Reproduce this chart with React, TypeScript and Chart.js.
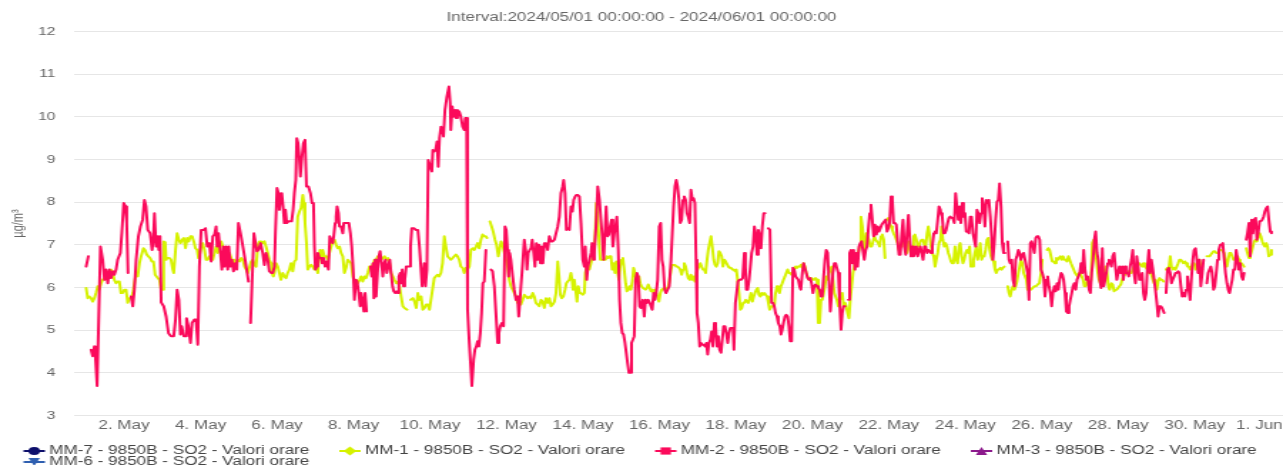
import React, { useEffect, useRef } from "react";
import { Chart, registerables } from "chart.js";

Chart.register(...registerables);

const CHART_TITLE = "Interval:2024/05/01 00:00:00 - 2024/06/01 00:00:00";
const Y_AXIS_TITLE = "µg/m³";

const seriesNames = [
  "MM-7 - 9850B - SO2 - Valori orare",
  "MM-1 - 9850B - SO2 - Valori orare",
  "MM-2 - 9850B - SO2 - Valori orare",
  "MM-3 - 9850B - SO2 - Valori orare",
  "MM-6 - 9850B - SO2 - Valori orare",
];
const seriesColors = ["#0d0f6b", "#d6f200", "#fb0a5b", "#8c1a8c", "#2f5fb0"];
const seriesSymbols = ["circle", "diamond", "square", "triangle", "triangle-down"];

// x values: hours since 2024-05-01 00:00
const xTickHours = [24, 72, 120, 168, 216, 264, 312, 360, 408, 456, 504, 552, 600, 648, 696, 744];
const xTickLabels = [
  "2. May", "4. May", "6. May", "8. May", "10. May", "12. May", "14. May", "16. May",
  "18. May", "20. May", "22. May", "24. May", "26. May", "28. May", "30. May", "1. Jun",
];

type P = [number, number | null];

const mm7Values: P[] = [];
const mm3Values: P[] = [];
const mm6Values: P[] = [];

const mm1Values: P[] = [
[0.2,5.99],[1.2,5.75],[2.2,5.79],[3.3,5.75],[4.3,5.67],[5.4,5.75],[6.4,5.87],[7.5,6.03],[8.5,5.95],[9.6,6.10],
[10.6,6.18],[12.7,6.26],[14.8,6.38],[15.9,6.42],[16.9,6.34],[17.9,6.18],[19.0,6.10],[20.0,6.14],[21.1,6.14],[22.1,5.87],
[23.2,5.87],[24.2,5.95],[25.3,5.95],[26.3,5.64],[27.4,5.75],[28.4,5.75],[29.5,5.87],[30.5,6.10],[31.6,6.34],[32.6,6.26],
[33.7,6.57],[34.7,6.73],[36.2,6.92],[37.2,6.88],[38.3,6.77],[39.3,6.73],[40.4,6.69],[41.4,6.61],[42.5,6.61],[43.5,6.30],
[45.2,6.22],[46.2,6.18],[47.3,5.95],[48.3,5.95],[48.9,7.08],[49.8,7.06],[50.4,6.65],[51.0,6.69],[52.5,6.69],[53.5,6.65],
[54.6,6.42],[55.2,6.34],[56.3,6.88],[57.3,7.27],[58.4,7.12],[59.4,7.04],[60.5,7.12],[61.5,7.16],[62.6,6.92],[63.6,7.16],
[64.6,7.08],[65.7,7.20],[66.7,7.20],[67.8,7.08],[68.8,6.92],[69.9,6.88],[70.7,6.69],[71.6,6.81],[72.4,6.96],[73.4,7.04],
[74.5,6.88],[75.5,6.65],[76.6,6.65],[77.6,6.73],[78.7,6.73],[79.7,6.65],[80.8,6.81],[81.8,6.96],[82.9,6.81],[83.9,6.96],
[85.0,7.08],[86.0,6.96],[87.1,6.85],[88.1,6.73],[89.1,6.65],[90.2,6.81],[91.2,6.69],[92.3,6.57],[93.3,6.65],[94.4,6.57],
[95.4,6.65],[96.5,6.61],[97.5,6.69],[98.6,6.65],[99.6,6.49],[100.7,6.42],[101.7,6.34],[103.8,6.61],[104.8,6.65],[105.9,6.53],
[106.9,6.49],[108.0,7.00],[109.0,7.08],
[110.0,7.08],[111.0,7.04],[112.1,7.08],[113.1,6.96],[114.2,6.81],[115.2,6.65],[116.3,6.57],[116.9,6.34],[117.7,6.26],[118.4,6.34],
[119.4,6.57],[120.5,6.49],[121.5,6.34],[122.5,6.18],[123.6,6.34],[124.6,6.26],[125.7,6.22],[126.7,6.34],[127.8,6.42],[128.8,6.57],
[129.9,6.38],[130.9,6.61],[132.0,6.65],[133.0,7.66],[134.1,7.78],[135.1,7.86],[136.2,8.17],[136.8,7.98],[137.6,7.51],[138.5,7.04],
[139.3,6.42],[140.3,6.49],[141.4,6.53],[142.4,6.49],[143.5,6.42],[144.5,6.53],[145.6,6.34],[146.2,6.65],[147.0,6.88],[148.1,6.65],
[148.7,6.88],[149.8,6.73],[150.8,6.73],[151.9,6.65],[152.9,6.81],[154.0,6.96],[155.0,7.08],[156.1,7.12],[157.1,7.00],[158.1,6.92],
[159.2,6.96],[160.2,6.81],[161.3,6.73],[162.3,6.34],[163.4,6.46],[164.4,6.65],[165.5,6.61],[166.5,6.57],[167.6,6.26],[168.6,6.10],
[169.7,6.18],[170.7,6.10],[171.8,6.18],[172.8,6.26],[173.8,6.14],[174.9,6.26],[175.9,6.22],[177.0,6.34],[178.0,6.49],[179.1,6.46],
[180.1,6.53],[181.2,6.65],[182.2,6.65],[183.3,6.73],[184.3,6.65],[185.4,6.65],[186.4,6.69],[187.5,6.73],[188.5,6.65],[189.6,6.69],
[190.6,6.57],[191.6,6.34],[192.7,6.26],[193.7,6.18],[194.8,6.10],[195.8,6.14],[196.9,6.03],[197.9,5.79],[199.0,5.56],[200.0,5.52],
[201.7,5.48],[202.7,null],[203.8,5.71],[205.3,5.75],[206.3,5.67],[207.4,5.52],[208.4,5.87],[209.4,5.71],[210.5,5.79],[211.5,5.48],
[212.6,5.52],[213.6,5.60],[214.7,5.60],[215.7,5.48],
[217.6,5.95],[218.7,6.22],[219.7,6.26],[220.8,6.30],[221.8,6.26],[222.9,6.34],[223.9,6.57],[225.0,7.20],[226.0,6.96],[227.1,6.73],
[228.1,6.69],[229.1,6.65],[230.2,6.69],[231.2,6.73],[232.3,6.77],[233.3,6.73],[234.4,6.65],[235.4,6.49],[236.5,6.46],[237.5,6.34],
[238.6,6.46],[239.6,6.42],[240.7,6.49],[241.7,6.88],[242.8,6.92],[243.8,6.88],[244.9,6.96],[245.9,7.04],[246.9,6.92],[248.0,7.12],
[249.0,7.24],[250.1,7.20],[251.1,7.20],[251.8,7.16],[252.8,null],[253.6,7.55],[254.7,7.43],[255.7,7.31],[256.8,7.12],[257.8,7.00],
[258.9,6.73],[259.7,6.88],[260.6,7.08],[261.6,7.00],[262.7,6.81],[263.7,6.65],[264.7,6.49],[265.8,6.18],[266.8,6.03],[267.9,5.95],
[268.9,5.87],[270.0,5.79],[271.0,5.64],[272.1,5.67],[273.1,5.60],[274.2,5.71],[275.2,5.83],[276.3,5.79],[277.3,5.75],[278.4,5.79],
[279.4,5.75],[280.5,5.87],[281.5,5.79],[282.5,5.64],[283.6,5.60],[284.6,5.56],[285.7,5.71],[286.7,5.67],[287.8,5.52],[288.8,5.75],
[289.9,5.64],[290.9,5.75],[292.0,5.56],[293.0,5.60],[294.1,5.67],[295.1,5.87],[296.2,6.61],[297.0,6.26],[297.8,5.83],[298.7,5.75],
[299.7,5.79],[300.8,5.95],[301.6,6.10],[302.4,6.14],[303.5,6.18],[304.5,6.34],[305.2,6.18],[305.8,5.95],[306.6,6.18],[307.7,5.87],
[308.3,5.67],[309.1,6.03],[310.0,5.87],[310.8,5.87],[311.9,5.83],[312.9,5.87],[313.5,6.34],[314.4,6.49],[315.2,6.42],[316.0,6.42],
[317.1,6.57],[318.1,6.73],[319.2,6.88],[319.8,7.35],[320.4,7.98],[321.3,7.66],[322.3,6.96],
[322.9,6.65],[323.7,6.65],[324.5,6.65],[325.4,6.65],[326.2,6.65],[327.1,6.73],[327.9,6.69],[328.7,6.73],[329.6,6.73],[330.4,6.42],
[331.2,6.57],[332.1,6.34],[332.9,6.61],[333.8,6.34],[334.6,6.18],[335.4,6.49],[336.3,6.65],[337.1,6.69],[337.9,6.42],[338.8,6.10],
[339.6,5.91],[340.5,5.95],[341.3,6.03],[342.1,5.95],[343.0,6.14],[343.8,6.46],[344.6,6.34],[345.5,6.18],[346.3,6.26],[347.2,6.26],
[348.0,6.10],[348.8,6.03],[349.7,5.99],[350.5,5.99],[351.3,5.95],[352.2,5.99],[353.0,6.07],[353.9,5.99],[354.7,5.91],[355.5,5.95],
[356.4,5.87],[357.2,5.95],[358.0,5.87],[358.9,5.79],[359.7,5.67],[360.6,5.87],[361.4,5.95],[362.2,5.95],[363.1,5.99],[363.9,5.91],
[364.7,5.95],[365.6,6.03],[366.4,6.18],[367.3,6.42],[368.1,6.53],[368.9,6.53],[369.8,6.53],[370.6,6.49],[371.4,6.49],[372.3,6.46],
[373.1,6.42],[374.0,6.30],[374.8,6.42],[375.6,6.57],[376.5,6.49],[377.3,6.34],[378.1,6.22],[379.0,6.18],[379.8,6.30],[380.7,6.18],
[381.5,6.26],[382.3,6.14],[383.2,6.34],[384.0,6.42],[384.8,6.49],[385.7,6.57],[386.5,6.49],[387.4,6.42],[388.2,6.42],[389.0,6.34],
[389.9,6.65],[390.7,6.88],[391.5,7.04],[392.4,7.20],[393.2,6.96],[394.1,6.65],[394.9,6.53],[395.7,6.49],[396.6,6.57],[397.4,6.85],
[398.2,6.81],[399.1,6.73],[399.9,6.49],[400.8,6.65],[401.6,6.61],[402.4,6.61],[403.3,6.49],[404.1,6.46],[405.0,6.46],[405.8,6.42],
[406.6,6.42],[407.5,6.38],[408.3,6.42],[409.1,6.18],[410.0,5.87],[410.8,5.48],[411.7,5.52],[412.5,5.64],[413.3,5.64],[414.2,5.71],
[415.0,5.67],[415.8,5.64],[416.7,5.75],[417.5,5.87],[418.4,5.67],[419.2,5.79],[420.0,5.87],[420.9,5.95],[421.7,5.99],[422.5,5.83],
[423.4,5.79],[424.2,5.87],[425.1,5.83],[425.9,5.87],[426.7,5.83],[427.6,5.79],[428.4,5.64],[429.2,5.48],
[430.4,5.56],[431.2,5.56],[432.1,5.56],[432.9,5.87],[433.8,6.03],[434.6,5.95],[435.4,5.87],[436.3,6.03],[437.1,6.10],[437.9,6.18],
[438.8,6.26],[439.6,6.34],[440.5,6.42],[441.3,6.34],[442.1,6.34],[443.0,6.30],[443.8,6.38],[444.6,6.42],[445.5,6.49],[446.3,6.46],
[447.2,6.49],[448.0,6.49],[448.8,6.53],[449.7,6.46],[450.5,6.57],[451.3,6.49],[452.2,6.34],[453.0,6.26],[453.9,6.18],[454.7,6.18],
[455.5,6.22],[456.4,6.18],[457.2,6.18],[458.0,6.22],[458.9,6.18],[459.7,5.17],[460.6,5.17],[461.4,5.71],[462.2,5.71],[463.1,5.87],
[463.9,6.03],[464.7,6.26],[465.6,6.18],[466.4,6.34],[467.3,6.42],[468.1,6.49],[468.9,6.22],[469.8,5.87],[470.6,5.79],[471.4,5.71],
[472.3,5.56],[473.1,5.71],[474.0,5.75],[474.8,5.87],[475.6,5.56],[476.5,5.64],[477.3,5.56],[478.1,5.40],[479.0,5.28],[479.8,5.71],
[480.7,6.03],[481.5,6.34],[482.3,6.49],[483.2,6.65],[484.0,6.65],[484.8,6.81],[485.7,6.96],[486.5,7.66],[487.4,7.43],[488.2,7.12],
[489.0,6.88],[489.9,7.27],[490.7,7.20],[491.5,7.12],[492.4,6.96],[493.2,6.96],[494.1,7.08],[494.9,7.20],[495.7,7.12],[496.6,7.08],
[497.4,7.04],[498.2,6.96],[499.1,7.20],[499.9,7.24],[500.8,7.12],[501.6,6.69],[502.2,null],[502.9,7.59],[503.7,7.63],[504.5,7.51],
[505.4,7.43],[506.2,7.35],[507.0,7.27],[507.9,7.20],[508.7,7.12],[509.6,7.04],[510.4,6.88],[511.2,6.96],[512.1,6.96],[512.9,7.12],
[513.7,7.08],[514.6,6.96],[515.4,6.81],[516.3,7.08],[517.1,6.96],[517.9,6.81],[518.8,6.96],[519.6,7.20],[520.4,7.24],[521.3,7.12],
[522.1,6.96],[523.0,6.96],[523.8,7.08],[524.6,7.12],[525.5,7.12],[526.3,7.00],[527.1,6.96],[528.0,7.27],[528.8,7.43],[529.7,7.20],
[530.5,6.96],[531.3,6.81],[532.2,6.73],[533.0,6.49],[533.8,6.65],[534.7,6.81],[535.5,7.04],[536.4,7.12],
[537.1,7.43],[537.9,7.12],[538.8,6.96],[539.6,7.04],[540.5,6.96],[541.3,6.81],[542.1,6.73],[543.0,6.61],[543.8,6.57],[544.6,6.57],
[545.5,6.96],[546.3,6.65],[547.2,6.57],[548.0,6.96],[548.8,7.04],[549.7,6.73],[550.5,6.57],[551.3,6.65],[552.2,6.81],[553.0,6.88],
[553.9,6.81],[554.7,6.96],[555.5,6.49],[556.4,6.49],[557.2,6.65],[558.0,6.81],[558.9,6.96],[559.7,6.65],[560.6,6.81],[561.4,7.04],
[562.2,6.65],[563.1,6.73],[563.9,6.73],[564.7,6.88],[565.6,7.12],[566.4,7.16],[567.3,6.88],[568.1,6.73],[568.9,6.65],[569.8,6.61],
[570.6,6.42],[571.4,6.34],[572.3,6.42],[573.1,6.42],[574.0,6.46],[574.8,6.42],[575.6,6.46],[576.5,6.49],[577.5,null],[578.6,6.03],
[579.4,5.87],[580.2,5.79],[581.1,5.95],[581.9,6.03],[582.8,5.95],[583.6,6.03],[584.4,6.14],[585.3,6.34],[586.1,6.49],[586.9,6.65],
[587.8,6.57],[588.6,6.34],[589.5,6.26],[590.3,6.18],[591.1,5.95],[593.2,5.95],[594.3,5.99],[595.3,6.03],[596.4,6.03],[597.4,6.07],
[598.5,6.10],[599.5,6.34],[600.3,6.65],[601.5,null],[603.3,6.88],[604.1,6.92],[604.9,6.88],[605.8,6.73],[606.6,6.61],[607.5,6.61],
[608.3,6.57],[609.1,6.69],[610.0,6.65],[610.8,6.69],[611.6,6.73],[612.5,6.65],[613.3,6.73],[614.2,6.65],[615.0,6.65],[615.8,6.61],
[616.7,6.73],[617.5,6.65],[618.3,6.57],[619.2,6.49],[620.0,6.42],[620.9,6.34],[621.7,6.30],[622.5,6.26],[623.4,6.34],[624.2,6.34],
[625.0,6.26],[625.9,6.18],[626.7,6.03],[627.6,6.03],[628.4,6.18],[629.2,6.07],[630.1,6.03],[630.9,6.18],[631.7,7.04],[632.6,7.12],
[633.4,6.96],[634.3,6.65],[635.1,6.34],[635.9,6.18],[636.8,6.10],[637.6,6.18],[638.5,6.26],[639.3,6.34],[640.1,6.49],[641.0,6.34],
[641.8,6.03],[642.6,5.95],
[643.7,6.10],[644.5,6.07],[645.4,5.91],[646.2,5.95],[647.1,5.95],[647.9,5.99],[648.7,6.03],[649.6,6.07],[650.4,6.18],[651.2,6.26],
[652.9,6.34],[653.8,6.34],[654.6,6.38],[655.4,6.34],[656.3,6.34],[657.1,6.42],[657.9,6.49],[658.8,6.53],[659.6,6.49],[660.5,6.57],
[661.3,6.57],[662.1,6.53],[663.0,6.49],[663.8,6.57],[664.6,6.49],[665.5,6.46],[666.3,6.42],[667.2,6.34],[668.0,6.34],[668.8,6.30],
[669.7,6.18],[670.5,6.10],[671.3,6.18],[672.2,5.95],[673.0,6.14],[673.9,6.22],[674.7,6.18],[675.5,6.18],[676.4,6.14],[677.4,null],
[678.0,6.42],[678.9,6.46],[679.7,6.42],[680.6,6.73],[681.4,6.49],[682.2,6.42],[683.1,6.46],[683.9,6.42],[684.7,6.49],[685.6,6.57],
[686.4,6.65],[687.3,6.65],[688.1,6.61],[688.9,6.57],[689.8,6.61],[690.6,6.57],[691.4,6.49],[692.3,6.49],[693.1,6.42],[694.0,6.49],
[694.8,6.57],[695.6,6.57],[696.5,6.42],[697.3,6.49],[698.1,6.65],[699.0,6.65],[699.8,6.49],[700.7,6.42],[702.0,null],[703.6,6.73],
[704.4,6.73],[705.3,6.73],[706.1,6.77],[706.9,6.81],[707.8,6.85],[708.6,6.85],[709.5,6.81],[710.3,6.81],[711.1,6.85],[712.0,6.88],
[712.8,6.88],[713.6,6.85],[714.5,6.81],[715.3,6.65],[716.2,6.49],[717.0,6.65],[717.8,6.81],[718.7,6.81],[719.5,6.73],[720.3,6.65],
[721.2,6.65],[722.0,6.73],[722.9,6.73],[723.7,6.65],[724.5,6.57],[725.4,6.57],[726.2,6.53],[727.0,6.49],[727.6,null],[728.3,6.92],
[729.1,6.81],[730.0,6.69],[730.8,6.73],[731.7,6.85],[732.5,6.96],[733.3,7.08],[734.2,7.12],[735.0,7.08],[735.8,7.16],[736.7,7.27],
[737.5,7.20],[738.4,7.08],[739.2,7.00],[740.0,6.96],[740.9,7.04],[741.7,6.96],[742.5,6.73],[743.4,6.77],[744.2,6.88],
];

const mm2Values: P[] = [
[0.2,6.49],[1.6,6.73],[2.4,null],[3.3,4.54],[4.3,4.39],[5.4,4.62],[6.0,4.39],[7.1,3.69],[9.2,6.96],[10.6,6.65],
[11.7,6.18],[12.7,6.42],[13.8,6.10],[14.8,6.42],[15.9,6.22],[16.9,6.38],[17.9,6.30],[19.0,6.42],[20.0,6.65],[21.7,6.81],
[22.6,7.27],[23.8,7.98],[24.9,7.90],[25.7,7.51],[26.5,6.34],[27.4,null],[28.4,5.79],[29.5,5.56],[30.5,5.95],[31.6,6.65],
[33.0,7.20],[34.3,7.43],[35.7,7.59],[36.8,8.05],[37.8,7.90],[38.9,7.35],[40.4,7.27],[41.6,6.88],[42.4,7.12],[43.1,7.74],
[44.1,6.96],[45.2,7.20],[45.8,6.88],[46.6,7.20],[47.3,5.65],[48.9,5.56],[50.4,5.32],[51.9,4.93],[53.5,4.86],[55.2,4.86],
[56.3,5.25],[57.3,5.95],[58.4,5.71],[59.4,4.90],[60.2,5.09],[61.5,4.86],[62.5,4.86],[63.2,5.28],[64.4,5.09],[65.7,4.70],
[66.7,5.17],[68.2,5.25],[69.2,5.25],[70.3,4.66],[71.3,6.49],[72.4,7.35],[74.1,7.35],[75.1,7.39],[76.2,6.96],[77.6,7.04],
[78.7,6.61],[79.7,7.20],[80.8,7.24],[81.8,7.43],[82.4,6.96],[83.3,7.27],[84.5,6.81],[85.4,6.42],[86.4,6.96],[87.1,6.49],
[88.1,6.96],[89.1,6.42],[89.8,6.96],[90.8,6.49],[91.7,6.65],[92.7,6.38],[93.8,6.57],[94.8,6.42],[95.8,7.51],[97.1,7.27],
[98.6,6.96],[100.0,6.65],[101.3,6.34],[102.1,6.14],[102.7,null],[103.4,5.17],[104.8,6.57],[105.5,7.27],[106.3,7.27],[107.4,6.85],
[108.4,6.88],[109.7,7.04],
[111.0,6.81],[112.1,6.53],[113.1,6.81],[114.2,6.65],[115.2,6.38],[116.3,6.34],[117.3,6.34],[118.4,6.49],[119.0,7.27],[120.0,8.33],
[120.9,8.21],[121.5,7.82],[122.1,8.05],[123.0,8.21],[123.8,7.90],[124.6,7.51],[125.3,7.82],[126.1,7.51],[127.2,7.55],[128.4,7.55],
[129.2,7.55],[130.1,7.82],[130.9,8.21],[131.8,8.52],[132.4,9.50],[133.2,9.38],[134.1,8.99],[134.7,8.60],[135.5,8.99],[136.6,9.38],
[137.6,9.46],[138.5,8.37],[139.7,8.37],[141.0,8.21],[142.0,7.98],[142.9,7.98],[143.5,6.96],[144.1,6.42],[145.0,6.49],[145.6,6.81],
[146.6,6.69],[147.7,6.69],[148.3,6.57],[149.3,6.69],[150.2,6.49],[151.2,6.61],[152.3,6.42],[153.1,7.20],[154.0,7.12],[155.0,7.04],
[155.6,7.20],[156.5,7.51],[157.1,7.66],[157.7,7.90],[158.6,7.74],[159.2,7.43],[160.2,7.43],[161.3,7.27],[161.9,7.51],[163.0,7.51],
[164.0,7.51],[165.1,7.51],[166.1,7.27],[166.9,6.96],[167.8,6.42],[168.6,5.71],[169.5,6.18],[170.3,6.14],[171.3,5.87],[172.2,5.56],
[172.8,5.87],[173.6,5.71],[174.5,5.44],[175.3,5.87],[176.2,5.44],[177.3,null],[178.7,6.49],[179.5,6.26],[180.3,6.57],[180.8,5.75],
[181.6,6.65],[182.2,5.79],[183.1,6.34],[183.9,6.73],[184.7,6.85],[185.6,6.57],[186.4,6.26],[187.3,6.57],[188.1,6.65],[188.9,6.34],
[189.8,6.49],[190.8,6.65],[191.6,6.34],[192.5,6.03],[193.3,5.91],[194.2,5.87],[195.0,5.91],[195.8,5.87],[196.5,6.26],[197.3,6.34],
[197.9,6.10],[198.6,6.42],[199.4,6.03],[200.2,6.18],[201.1,6.49],[202.1,6.49],[203.0,6.49],[203.8,6.96],[204.6,7.39],[205.9,7.39],
[207.1,7.35],[208.4,7.35],[209.4,6.96],
[211.1,6.03],[212.4,6.57],[213.2,6.03],[214.1,6.42],[214.9,8.99],[216.2,8.83],[217.2,8.72],[217.8,9.22],[218.7,9.19],[219.5,9.22],
[220.4,9.42],[221.2,8.83],[222.0,9.50],[222.9,9.77],[223.7,9.73],[224.5,9.54],[225.4,10.16],[226.6,10.47],[227.9,10.71],[228.7,10.32],
[229.1,9.69],[230.0,10.24],[230.8,10.00],[231.7,10.16],[232.5,9.97],[233.3,10.16],[234.4,10.12],[235.4,10.00],[236.5,9.77],[237.5,9.69],
[238.2,9.97],[239.0,9.97],[239.6,5.48],[240.7,4.70],[241.7,4.08],[242.3,3.69],[243.4,4.31],[244.2,4.54],[245.1,4.62],[245.9,4.74],
[246.7,4.62],[247.6,4.93],[248.4,5.40],[249.2,6.10],[250.1,6.14],[251.1,6.88],[252.5,null],[254.3,6.42],[255.3,6.38],[256.4,6.03],
[257.4,5.40],[258.5,4.70],[259.3,4.93],[260.1,5.09],[261.2,5.17],[262.2,5.09],[263.1,7.43],[263.9,7.35],[264.7,6.88],[265.4,6.26],
[266.0,6.81],[266.8,6.65],[267.9,6.26],[268.9,5.95],[270.0,5.71],[271.0,5.79],[271.7,5.32],[272.5,5.71],[273.1,6.03],[274.2,6.57],
[275.2,7.12],[276.3,6.81],[276.9,6.42],[277.7,6.81],[278.6,6.88],[279.4,6.92],[280.2,7.12],[281.1,6.81],[281.9,6.49],[282.8,7.04],
[283.6,6.65],[284.4,7.00],[285.3,6.57],[286.1,6.96],[286.9,6.57],[287.8,7.04],[288.8,7.04],[289.9,6.88],[290.9,7.20],[292.0,7.08],
[293.0,7.08],[294.1,7.12],[295.1,7.27],[296.2,7.43],[297.2,7.66],[298.2,8.21],[299.3,8.37],[299.9,8.52],[300.8,8.21],[301.6,7.35],
[302.4,7.39],[303.5,7.35],[304.5,7.90],[305.4,7.78],[306.2,8.05],[307.1,8.13],[307.9,8.17],[308.7,8.17],[309.8,8.13],[310.8,7.51],
[311.9,6.65],[312.9,6.49],[313.5,6.96],[314.4,6.18],[315.2,6.49],[316.1,6.65],[317.1,6.81],[317.7,7.04],[318.6,6.65],[319.2,6.85],
[320.2,7.43],[321.3,8.37],
[322.4,8.05],[323.3,7.59],[324.1,7.20],[325.0,6.65],[325.8,7.27],[326.6,7.90],[327.5,7.20],[328.3,7.24],[329.1,7.43],[330.0,7.59],
[330.8,6.96],[331.7,7.27],[332.5,7.43],[333.3,7.66],[334.2,6.88],[335.0,5.71],[335.8,5.17],[336.7,4.93],[337.5,4.90],[338.4,4.70],
[339.2,4.47],[340.0,4.23],[340.9,4.00],[341.7,4.00],[342.5,4.70],[343.4,4.78],[344.2,4.86],[345.1,6.18],[345.9,6.34],[346.7,6.26],
[347.6,5.56],[348.4,5.52],[349.5,5.71],[350.5,5.32],[351.3,5.71],[352.2,5.64],[353.0,5.71],[353.9,5.64],[354.7,5.56],[355.5,5.48],
[356.4,5.87],[357.2,5.71],[358.0,5.87],[358.9,6.18],[359.9,7.43],[360.8,7.51],[361.6,6.65],[362.4,6.49],[363.3,5.95],[364.1,5.87],
[365.2,5.95],[366.2,6.03],[367.3,6.65],[368.1,7.27],[368.9,7.90],[369.8,8.37],[370.6,8.52],[371.4,8.37],[372.3,8.05],[373.1,7.51],
[374.0,7.59],[374.8,8.05],[375.6,8.13],[376.5,8.05],[377.3,7.74],[378.1,7.66],[379.0,7.51],[379.8,8.29],[380.7,8.05],[381.5,8.09],
[382.3,7.98],[383.0,6.65],[383.6,5.40],[384.4,5.17],[385.3,4.62],[386.1,4.70],[386.9,4.66],[387.8,4.66],[388.6,4.62],[389.5,4.70],
[390.3,4.43],[391.1,4.70],[392.0,4.78],[392.8,4.97],[393.6,4.62],[394.5,5.17],[395.3,5.09],[396.2,4.62],[397.0,4.86],[397.8,4.54],
[398.7,4.47],[399.5,4.78],[400.3,5.09],[401.2,5.09],[402.0,4.93],[402.9,4.70],[403.7,4.93],[404.5,5.05],[405.4,5.05],[406.2,5.05],
[406.8,4.54],[407.7,5.64],[408.5,5.87],[409.3,6.14],[410.2,6.18],[411.2,6.18],[412.3,6.22],[413.3,6.81],[414.0,6.49],[414.6,5.95],
[415.4,5.95],[416.3,6.18],[417.1,6.49],[417.9,6.81],[418.8,6.96],[419.6,7.43],[420.4,7.27],[421.3,6.77],[422.1,7.35],[423.0,7.20],
[423.8,6.92],[424.6,7.43],[425.5,7.74],[426.3,7.74],[427.4,null],
[428.3,7.39],[429.4,7.35],[430.4,5.64],[431.2,5.64],[432.1,5.56],[432.9,5.40],[433.8,5.32],[434.6,5.17],[435.6,5.09],[436.3,4.90],
[437.1,5.01],[437.9,5.17],[438.8,5.32],[439.6,5.36],[440.5,5.32],[441.3,5.09],[442.1,4.74],[443.0,4.74],[443.8,6.46],[444.6,6.42],
[445.5,6.26],[446.3,6.26],[447.2,6.18],[448.0,6.03],[448.8,5.95],[449.7,6.34],[450.5,6.57],[451.3,6.46],[452.2,6.34],[453.0,6.22],
[453.9,6.18],[454.7,6.22],[455.5,6.10],[456.4,5.87],[457.2,6.03],[458.0,6.07],[458.9,6.03],[459.7,5.99],[460.6,5.95],[461.4,5.79],
[462.2,5.79],[463.1,6.26],[463.9,6.65],[464.7,6.88],[465.6,6.81],[466.4,6.18],[467.3,5.44],[468.1,5.87],[468.9,6.34],[469.8,6.57],
[470.6,6.57],[471.4,6.46],[472.3,6.34],[473.1,5.71],[474.0,5.01],[474.8,5.40],[475.6,5.56],[476.5,5.56],[477.6,null],[478.6,5.71],
[479.4,6.81],[480.2,6.88],[481.1,6.57],[481.9,6.88],[482.8,6.42],[483.6,6.81],[484.4,6.49],[485.3,6.96],[486.1,7.04],[486.9,7.08],
[487.8,6.85],[488.6,6.65],[489.5,6.88],[490.3,6.96],[491.1,7.35],[492.0,7.74],[492.8,7.94],[493.6,7.59],[494.5,7.20],[495.3,7.47],
[496.2,7.24],[497.0,7.43],[497.8,7.31],[498.7,7.39],[499.5,7.47],[500.3,7.51],[501.2,7.55],[502.0,7.59],[502.9,7.31],[503.7,7.39],
[504.5,7.51],[505.4,8.13],[506.2,8.05],[507.0,7.51],[507.9,7.51],[508.7,7.47],[509.6,7.04],[510.4,6.77],[511.2,6.77],[512.1,7.27],
[512.9,7.59],[513.7,6.96],[514.6,6.77],[515.4,7.27],[516.3,7.70],[517.1,7.20],[517.9,6.73],[518.8,6.96],[519.6,6.73],[520.4,6.81],
[521.3,6.96],[522.1,6.73],[523.0,6.88],[523.8,6.96],[524.6,6.81],[525.5,6.65],[526.3,6.96],[527.1,6.96],[528.0,6.81],[528.8,6.88],
[529.7,6.85],[530.5,6.81],[531.3,6.96],[532.2,7.27],[533.0,7.31],[533.8,7.27],[534.7,7.59],[535.5,7.90],[536.4,7.82],
[536.7,7.74],[537.5,7.66],[538.4,7.27],[539.2,7.27],[540.0,7.35],[540.9,7.51],[541.7,7.63],[542.5,7.66],[543.4,7.63],[544.2,7.63],
[545.1,7.51],[545.9,8.21],[546.7,7.90],[547.6,7.59],[548.4,7.90],[549.2,7.51],[550.1,7.98],[550.9,7.66],[551.8,7.74],[552.6,7.31],
[553.4,7.31],[554.3,7.27],[555.1,7.66],[555.9,7.66],[556.8,7.27],[557.6,7.12],[558.5,6.96],[559.3,7.82],[560.1,7.74],[561.0,7.51],
[561.8,7.74],[562.6,8.09],[563.5,7.90],[564.3,7.43],[565.2,8.05],[566.0,7.98],[566.8,8.05],[567.7,7.66],[568.5,7.20],[569.3,6.65],
[570.2,7.04],[571.0,7.59],[571.9,8.01],[572.7,8.05],[573.5,8.44],[574.4,7.90],[575.2,7.04],[576.0,6.81],[576.9,6.81],[577.7,null],
[578.6,7.08],[579.4,6.65],[580.2,6.57],[581.1,6.65],[581.9,6.18],[582.8,6.03],[583.6,6.65],[584.4,6.73],[585.3,6.88],[586.1,6.81],
[586.9,6.65],[587.8,6.77],[588.6,6.81],[589.5,6.65],[590.3,6.65],[591.1,6.34],[592.0,5.71],[592.8,7.04],[593.6,7.08],[594.5,6.96],
[595.3,6.81],[596.2,7.16],[597.0,7.20],[597.8,7.20],[598.7,7.12],[599.5,6.42],[600.3,6.34],[601.2,6.22],[602.0,5.79],[602.9,6.18],
[603.7,6.26],[604.5,6.03],[605.4,5.87],[606.2,5.56],[607.0,5.87],[607.9,6.03],[608.7,5.91],[609.6,6.10],[610.4,5.95],[611.2,6.18],
[612.1,6.34],[612.9,6.30],[613.7,6.18],[614.6,5.87],[615.4,5.44],[616.3,5.40],[617.1,5.56],[617.9,5.71],[618.8,5.87],[619.6,6.03],
[620.4,6.10],[621.3,5.95],[622.1,6.18],[623.0,6.26],[623.8,6.34],[624.6,6.57],[625.5,6.34],[626.3,6.88],[627.1,6.42],[628.0,6.18],
[628.8,6.26],[629.7,5.95],[630.5,5.87],[631.3,6.34],[632.2,6.65],[633.0,7.12],[633.8,7.31],[634.7,6.81],[635.5,6.65],[636.4,6.18],
[637.2,5.99],[638.0,6.92],[638.9,6.03],[639.7,6.18],[640.5,6.34],[641.4,6.57],[642.2,6.65],
[643.7,6.49],[644.5,6.73],[645.4,6.81],[646.2,6.49],[647.1,6.18],[647.9,6.34],[648.7,6.49],[649.6,6.34],[650.4,6.49],[651.2,6.18],
[652.1,6.49],[652.9,6.34],[653.8,6.34],[654.6,6.26],[655.4,6.49],[656.3,6.65],[657.1,6.88],[657.9,6.34],[658.8,6.10],[659.6,6.73],
[660.5,6.49],[661.3,6.18],[662.1,6.18],[663.0,6.34],[663.8,5.87],[664.6,5.71],[665.5,5.87],[666.3,6.49],[667.2,6.88],[668.0,6.34],
[668.8,6.65],[669.7,6.42],[670.5,6.18],[671.3,5.95],[672.2,5.64],[673.0,5.32],[673.9,5.56],[674.7,5.56],[675.5,5.52],[676.8,5.40],
[677.4,null],[678.0,5.87],[678.9,6.42],[679.7,6.46],[680.6,6.34],[681.4,6.10],[682.2,6.18],[683.1,6.26],[683.9,6.34],[684.7,6.34],
[685.6,6.38],[686.4,6.34],[687.3,6.03],[688.1,5.79],[688.9,5.87],[689.8,5.79],[690.6,5.95],[691.4,6.26],[692.3,5.95],[693.1,5.71],
[694.0,6.26],[694.8,6.65],[695.6,6.88],[696.5,6.92],[697.3,6.65],[698.1,6.34],[699.0,6.65],[699.8,6.03],[700.7,6.34],[701.5,6.65],
[702.6,null],[703.6,6.10],[704.4,6.34],[705.3,6.42],[706.1,6.49],[706.9,6.34],[707.8,5.95],[708.6,6.03],[709.5,6.34],[710.3,6.65],
[711.1,6.88],[712.0,7.00],[712.8,7.00],[713.6,7.04],[714.5,6.65],[715.3,6.34],[716.2,6.10],[717.0,5.95],[717.8,5.87],[718.7,6.03],
[719.5,6.18],[720.3,6.42],[721.2,6.42],[722.0,6.88],[722.9,6.65],[723.7,6.42],[724.5,6.57],[725.4,6.26],[726.2,6.18],[727.0,6.34],
[727.6,null],[728.3,7.12],[729.1,7.27],[730.0,7.51],[730.8,6.73],[731.7,7.59],[732.5,7.27],[733.3,7.59],[734.2,7.63],[735.0,7.12],
[735.8,7.27],[736.7,7.55],[737.5,7.55],[738.4,7.59],[739.2,7.66],[740.0,7.78],[740.9,7.86],[741.7,7.90],[742.5,7.59],[743.4,7.31],
[744.2,7.27],
];

const seriesValues: P[][] = [mm7Values, mm1Values, mm2Values, mm3Values, mm6Values];
const drawOrder = [3, 1, 0, 4, 5];

// ---------- layout constants (canvas internal units, stretched horizontally by CSS) ----------
const CANVAS_W = 900;
const CANVAS_H = 465;
const DISPLAY_W = 1283;
const LEGEND_TEXT_X = [34.5, 256, 477.5, 699];
const LEGEND_ROW_Y = [451, 462];
const FONT_FAMILY = "'Liberation Sans', Arial, Helvetica, sans-serif";

function drawSymbol(ctx: CanvasRenderingContext2D, kind: string, cx: number, cy: number, color: string) {
  ctx.fillStyle = color;
  ctx.beginPath();
  if (kind === "circle") {
    ctx.arc(cx, cy, 4, 0, Math.PI * 2);
  } else if (kind === "diamond") {
    ctx.moveTo(cx, cy - 4.5);
    ctx.lineTo(cx + 4.5, cy);
    ctx.lineTo(cx, cy + 4.5);
    ctx.lineTo(cx - 4.5, cy);
    ctx.closePath();
  } else if (kind === "square") {
    ctx.rect(cx - 3.6, cy - 3.6, 7.2, 7.2);
  } else if (kind === "triangle") {
    ctx.moveTo(cx, cy - 4);
    ctx.lineTo(cx + 4, cy + 4);
    ctx.lineTo(cx - 4, cy + 4);
    ctx.closePath();
  } else {
    ctx.moveTo(cx - 4, cy - 4);
    ctx.lineTo(cx + 4, cy - 4);
    ctx.lineTo(cx, cy + 4);
    ctx.closePath();
  }
  ctx.fill();
}

const legendPlugin = {
  id: "bottomLegend",
  afterDraw(chart: any) {
    const ctx: CanvasRenderingContext2D = chart.ctx;
    ctx.save();
    ctx.font = `12px ${FONT_FAMILY}`;
    ctx.textBaseline = "middle";
    ctx.textAlign = "left";
    chart.data.datasets.forEach((ds: any, i: number) => {
      const col = i % 4;
      const row = Math.floor(i / 4);
      const tx = LEGEND_TEXT_X[col];
      const y = LEGEND_ROW_Y[row];
      ctx.strokeStyle = ds.borderColor;
      ctx.lineWidth = 2;
      ctx.beginPath();
      ctx.moveTo(tx - 18, y);
      ctx.lineTo(tx - 3, y);
      ctx.stroke();
      drawSymbol(ctx, seriesSymbols[i], tx - 10.5, y, ds.borderColor);
      ctx.fillStyle = "#444444";
      ctx.fillText(ds.label, tx, y);
    });
    ctx.restore();
  },
};

export default function App() {
  const canvasRef = useRef<HTMLCanvasElement>(null);

  useEffect(() => {
    if (!canvasRef.current) return;
    Chart.defaults.font.family = FONT_FAMILY;

    const datasets = seriesNames.map((name, i) => ({
      label: name,
      data: seriesValues[i].map(([x, y]) => ({ x, y })),
      borderColor: seriesColors[i],
      backgroundColor: seriesColors[i],
      borderWidth: 2,
      pointRadius: 0,
      pointHoverRadius: 0,
      tension: 0,
      spanGaps: false,
      borderJoinStyle: "round" as const,
      borderCapStyle: "round" as const,
      order: drawOrder[i],
    }));

    const chart = new Chart(canvasRef.current, {
      type: "line",
      data: { datasets },
      options: {
        responsive: false,
        maintainAspectRatio: false,
        animation: false,
        events: [],
        devicePixelRatio: 1,
        layout: { padding: { top: 0, right: 0, bottom: 29.5, left: 0 } },
        plugins: {
          legend: { display: false },
          tooltip: { enabled: false },
          title: {
            display: true,
            text: CHART_TITLE,
            color: "#666666",
            font: { size: 12, weight: "normal" },
            padding: { top: 10, bottom: 7.1 },
          },
        },
        scales: {
          x: {
            type: "linear",
            min: -7.4,
            max: 751.4,
            grid: { display: false, drawTicks: false },
            border: { display: false },
            afterBuildTicks: (scale: any) => {
              scale.ticks = xTickHours.map((v) => ({ value: v }));
            },
            afterFit: (scale: any) => {
              scale.height = 20;
              scale.paddingLeft = 0;
              scale.paddingRight = 0;
            },
            ticks: {
              autoSkip: false,
              maxRotation: 0,
              minRotation: 0,
              padding: 3,
              color: "#666666",
              font: { size: 12 },
              callback: (value: any) => {
                const i = xTickHours.indexOf(Number(value));
                if (i < 0) return "";
                // last label is pushed inward so it stays inside the chart
                return i === xTickHours.length - 1 ? xTickLabels[i] + "\u00a0\u00a0\u00a0\u00a0\u00a0" : xTickLabels[i];
              },
            },
          },
          y: {
            min: 3,
            max: 12,
            ticks: { stepSize: 1, padding: 13, color: "#666666", font: { size: 11 } },
            grid: { color: "#e6e6e6", lineWidth: 1, drawTicks: false },
            border: { display: false },
            title: {
              display: true,
              text: Y_AXIS_TITLE,
              color: "#666666",
              font: { size: 11 },
              padding: { top: 6, bottom: 0 },
            },
            afterFit: (scale: any) => {
              scale.width = 51.9;
              scale.paddingTop = 0;
              scale.paddingBottom = 0;
            },
          },
        },
      } as any,
      plugins: [legendPlugin],
    });

    return () => chart.destroy();
  }, []);

  return (
    <div style={{ position: "fixed", left: 0, top: 0, width: DISPLAY_W, height: CANVAS_H, background: "#ffffff" }}>
      <canvas
        ref={canvasRef}
        width={CANVAS_W}
        height={CANVAS_H}
        style={{ width: `${DISPLAY_W}px`, height: `${CANVAS_H}px`, display: "block" }}
      />
    </div>
  );
}
